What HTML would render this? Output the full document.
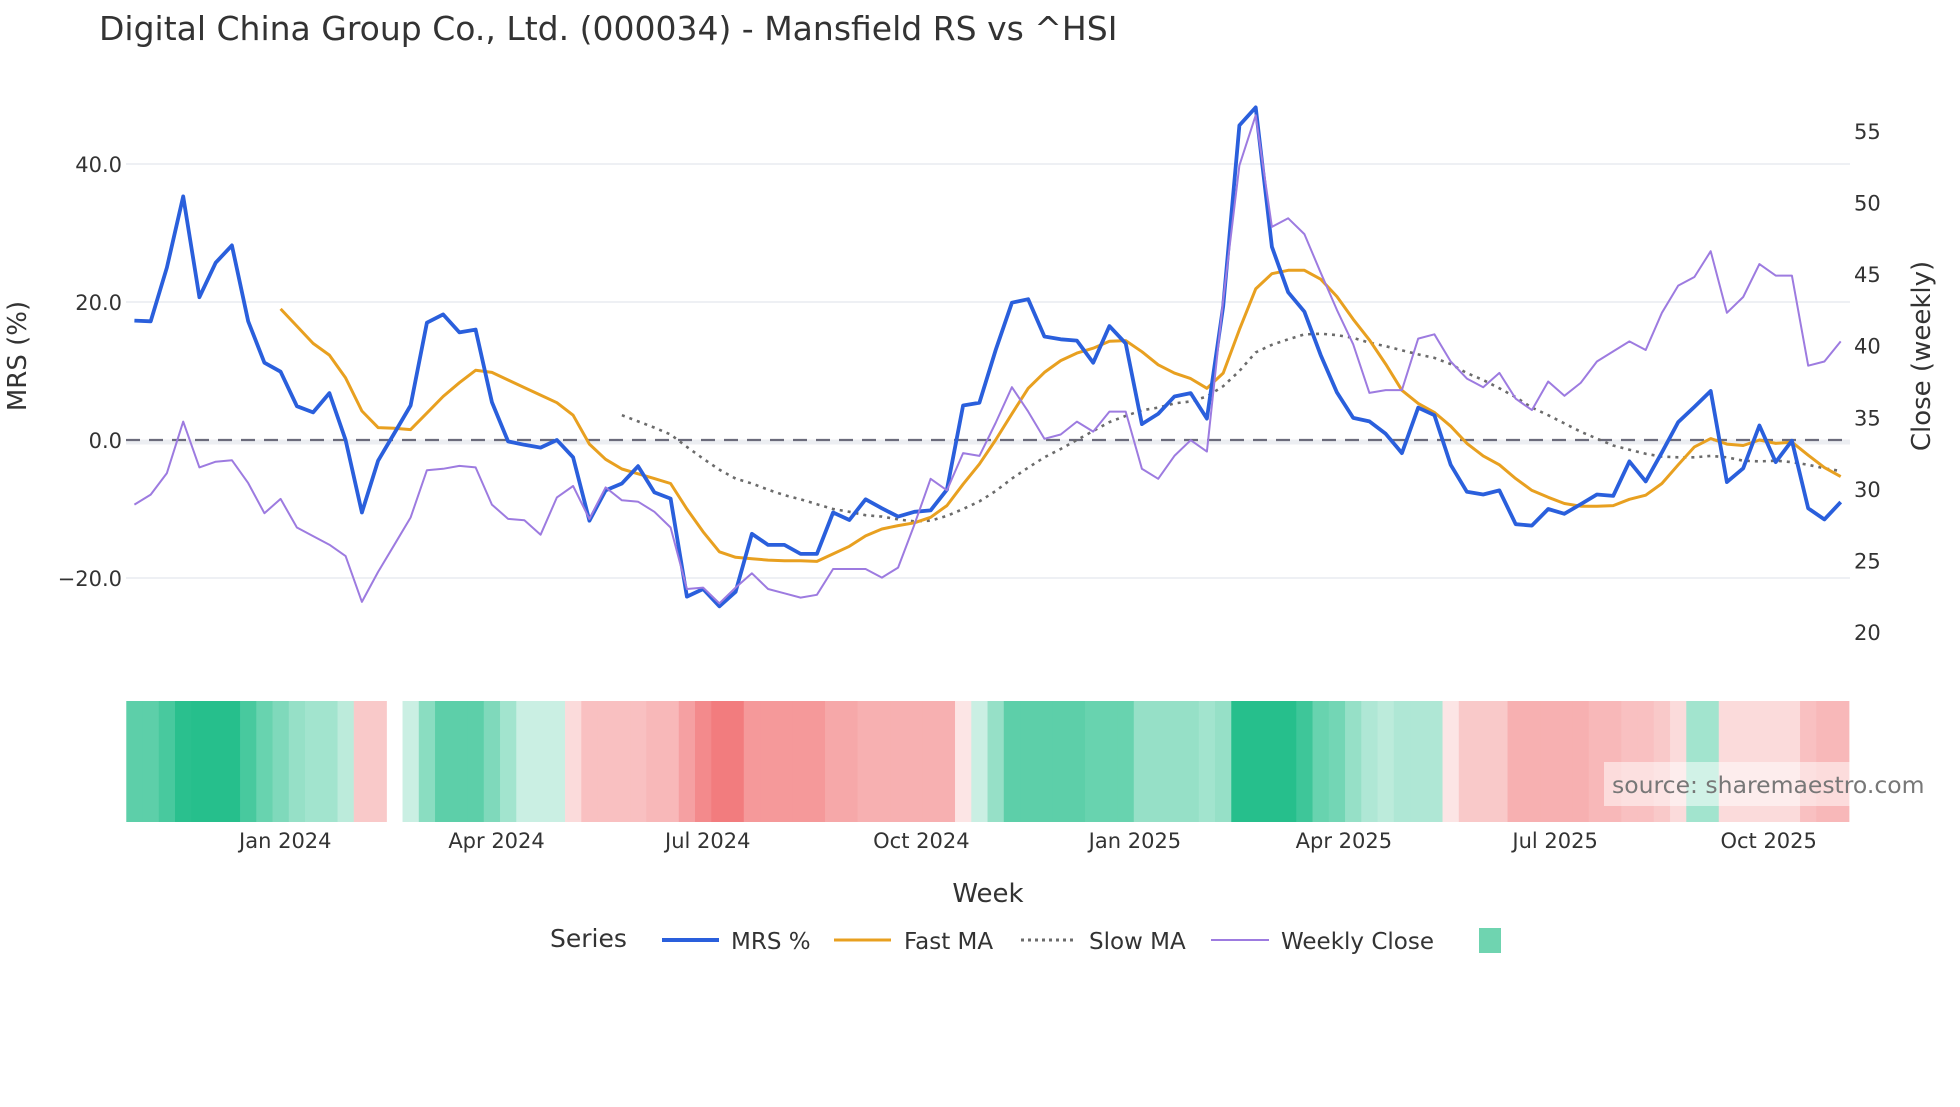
<!DOCTYPE html>
<html><head><meta charset="utf-8"><style>
html,body{margin:0;padding:0;background:#fff;}
svg text{font-family:"DejaVu Sans","Liberation Sans",sans-serif;fill:#2a3f5f;}
</style></head><body>
<svg id="chart" width="1960" height="1102" viewBox="0 0 1960 1102" xmlns="http://www.w3.org/2000/svg">
<text x="99" y="40" font-size="33" style="fill:#333">Digital China Group Co., Ltd. (000034) - Mansfield RS vs ^HSI</text>
<g id="grid"></g><g id="heat"></g><g id="lines"></g><g id="axes"></g>
<rect x="1604" y="762" width="246" height="44" fill="#fff" fill-opacity="0.5"/>
<text x="1612" y="793" font-size="23.5" style="fill:#777">source: sharemaestro.com</text>
<text x="988" y="902" font-size="26" text-anchor="middle" style="fill:#333">Week</text>
<text transform="translate(26,356) rotate(-90)" font-size="26" text-anchor="middle" style="fill:#333">MRS (%)</text>
<text transform="translate(1930,356) rotate(-90)" font-size="26" text-anchor="middle" style="fill:#333">Close (weekly)</text>
<g>
<text x="550" y="947" font-size="25" style="fill:#333">Series</text>
<g><line x1="662" y1="940" x2="719" y2="940" stroke="#2a5fdc" stroke-width="4"/><text x="731" y="949" font-size="23" style="fill:#333">MRS %</text></g>
<g><line x1="834" y1="940" x2="891" y2="940" stroke="#e8a020" stroke-width="3"/><text x="904" y="949" font-size="23" style="fill:#333">Fast MA</text></g>
<g><line x1="1021" y1="940" x2="1075" y2="940" stroke="#6b6b6b" stroke-width="3" stroke-dasharray="3,4"/><text x="1089" y="949" font-size="23" style="fill:#333">Slow MA</text></g>
<g><line x1="1211" y1="940" x2="1269" y2="940" stroke="#9d7be0" stroke-width="2"/><text x="1281" y="949" font-size="23" style="fill:#333">Weekly Close</text></g>
<rect x="1479" y="928" width="22" height="25" fill="#6fd4b0"/>
</g>
</svg>
<script>
const mrs=[17.3,17.2,25,35.3,20.7,25.7,28.2,17.2,11.2,9.9,4.9,4.0,6.8,0,-10.5,-3,1,5,17,18.2,15.6,16,5.5,-0.2,-0.7,-1.1,0,-2.5,-11.7,-7.3,-6.3,-3.8,-7.6,-8.5,-22.7,-21.6,-24.1,-22,-13.6,-15.2,-15.2,-16.5,-16.5,-10.5,-11.6,-8.6,-9.9,-11.1,-10.4,-10.2,-7.2,5,5.4,13,19.9,20.4,15,14.6,14.4,11.2,16.5,14,2.3,3.8,6.3,6.8,3.1,19.4,45.6,48.2,28,21.4,18.6,12.3,6.9,3.2,2.7,0.9,-1.9,4.7,3.6,-3.6,-7.5,-7.9,-7.3,-12.2,-12.4,-10,-10.7,-9.3,-7.9,-8.1,-3.1,-6,-1.8,2.6,4.8,7.1,-6.1,-4.1,2.1,-3.2,-0.1,-9.9,-11.5,-9];
const closeW=[28.9,29.6,31.1,34.7,31.5,31.9,32.0,30.4,28.3,29.3,27.3,26.7,26.1,25.3,22.1,24.2,26.1,28.0,31.3,31.4,31.6,31.5,28.9,27.9,27.8,26.8,29.4,30.2,27.9,30.1,29.2,29.1,28.4,27.3,23.0,23.1,22.0,23.1,24.1,23.0,22.7,22.4,22.6,24.4,24.4,24.4,23.8,24.5,27.5,30.7,29.9,32.5,32.3,34.6,37.1,35.4,33.5,33.8,34.7,34.0,35.4,35.4,31.4,30.7,32.3,33.4,32.6,43.2,52.6,56.1,48.3,48.9,47.8,45.1,42.5,40.1,36.7,36.9,36.9,40.5,40.8,38.9,37.7,37.1,38.1,36.3,35.5,37.5,36.5,37.4,38.9,39.6,40.3,39.7,42.3,44.2,44.8,46.6,42.3,43.4,45.7,44.9,44.9,38.6,38.9,40.3];
const fastStart=9;
const fastMA=[19,16.5,14,12.3,9,4.2,1.8,1.7,1.5,3.9,6.3,8.3,10.1,9.8,8.7,7.6,6.5,5.4,3.6,-0.6,-2.8,-4.2,-4.9,-5.6,-6.3,-10,-13.3,-16.2,-17,-17.2,-17.4,-17.5,-17.5,-17.6,-16.5,-15.4,-13.9,-12.9,-12.4,-12,-11.2,-9.5,-6.4,-3.5,0,3.8,7.5,9.8,11.5,12.6,13.3,14.3,14.4,12.8,10.9,9.7,8.9,7.5,9.7,16,21.9,24.1,24.6,24.6,23.3,20.8,17.5,14.5,11,7.2,5.3,4,2,-0.5,-2.3,-3.6,-5.6,-7.3,-8.3,-9.2,-9.6,-9.6,-9.5,-8.6,-8,-6.3,-3.6,-1,0.2,-0.6,-0.8,0,-0.5,-0.3,-2.2,-4,-5.3];
const slowStart=30;
const slowMA=[3.6,2.7,1.8,0.8,-1,-2.7,-4.3,-5.6,-6.3,-7.2,-8,-8.6,-9.3,-10,-10.4,-10.9,-11.1,-11.5,-11.8,-11.7,-11,-10,-8.9,-7.4,-5.6,-4,-2.5,-1.3,0,1.3,2.6,3.5,4.3,4.7,5.3,5.6,6.3,7.8,10,12.7,13.8,14.6,15.3,15.4,15.2,14.8,14.1,13.6,13,12.4,11.9,11,9.7,8.7,7.5,6.2,4.7,3.6,2.4,1.2,0.2,-0.8,-1.4,-2,-2.4,-2.5,-2.5,-2.3,-2.5,-3,-3.1,-3,-3.2,-3.6,-4.1,-4.5];
const heat=[0.6,0.6,0.7,0.85,0.9,0.9,0.9,0.7,0.55,0.45,0.35,0.3,0.3,0.2,-0.25,-0.25,null,0.15,0.4,0.6,0.6,0.6,0.45,0.3,0.15,0.15,0.15,-0.15,-0.3,-0.3,-0.3,-0.3,-0.35,-0.35,-0.5,-0.65,-0.75,-0.75,-0.55,-0.55,-0.55,-0.55,-0.55,-0.45,-0.45,-0.4,-0.4,-0.4,-0.4,-0.4,-0.4,-0.1,0.15,0.35,0.6,0.6,0.6,0.6,0.6,0.55,0.55,0.55,0.35,0.35,0.35,0.35,0.3,0.35,0.95,0.95,0.95,0.95,0.75,0.55,0.5,0.35,0.25,0.2,0.25,0.25,0.25,-0.1,-0.25,-0.25,-0.25,-0.4,-0.4,-0.4,-0.4,-0.4,-0.35,-0.35,-0.3,-0.3,-0.25,-0.15,0.3,0.3,-0.15,-0.15,-0.15,-0.15,-0.15,-0.3,-0.35,-0.35];
const yTicks=[40,20,0,-20];
const yTickLabels=["40.0","20.0","0.0","\u221220.0"];
const y2Ticks=[55,50,45,40,35,30,25,20];
const xTickLabels=["Jan 2024","Apr 2024","Jul 2024","Oct 2024","Jan 2025","Apr 2025","Jul 2025","Oct 2025"];
const xTickDates=["2024-01-01","2024-04-01","2024-07-01","2024-10-01","2025-01-01","2025-04-01","2025-07-01","2025-10-01"];
const startDate="2023-10-28";

const NS="http://www.w3.org/2000/svg";
const X0=134.4, DX=16.25;
const xS=i=>X0+i*DX;
const yS=v=>440-v*6.9;
const y2S=v=>131+(55-v)*14.314;
function mk(tag,attrs,parent){const e=document.createElementNS(NS,tag);for(const k in attrs)e.setAttribute(k,attrs[k]);parent.appendChild(e);return e;}
const grid=document.getElementById('grid'),heatG=document.getElementById('heat'),lines=document.getElementById('lines'),axes=document.getElementById('axes');

yTicks.forEach((t,k)=>{
  if(t!==0){const g=mk('line',{x1:126,x2:1850,y1:yS(t),y2:yS(t),stroke:'#eef0f4','stroke-width':2},grid);
  
  }
  const tx=mk('text',{x:122,y:yS(t)+8,'font-size':21,'text-anchor':'end',style:'fill:#333'},axes);
  tx.textContent=yTickLabels[k];
  
  
});
{const b=mk('line',{x1:126,x2:1850,y1:yS(0)+2,y2:yS(0)+2,stroke:'#eceef2','stroke-width':5},grid);


const z=mk('line',{x1:126,x2:1850,y1:yS(0),y2:yS(0),stroke:'#6b6b7b','stroke-width':2.2,'stroke-dasharray':'14,9'},lines);

}
y2Ticks.forEach(t=>{
  const tx=mk('text',{x:1854,y:y2S(t)+8,'font-size':21,style:'fill:#333'},axes);
  tx.textContent=String(t);
  
  
});
const sd=new Date(startDate+"T00:00:00Z");
xTickDates.forEach((d,k)=>{
  const idx=(new Date(d+"T00:00:00Z")-sd)/864e5/7;
  const tx=mk('text',{x:xS(idx),y:848,'font-size':21,'text-anchor':'middle',style:'fill:#333'},axes);
  tx.textContent=xTickLabels[k];
  
  
});
function col(v){const w=[255,255,255],g=[38,191,140],r=[240,108,110];const c=v>=0?g:r;const a=Math.min(1,Math.pow(Math.abs(v),0.8)*1.12);
return 'rgb('+c.map((x,i)=>Math.round(w[i]+(x-w[i])*a)).join(',')+')';}
heat.forEach((v,k)=>{
  if(v===null)return;
  const c=mk('rect',{x:xS(k)-DX/2,y:701,width:DX+0.6,height:121,fill:col(v)},heatG);
  
  
});
function path(vals,start,sc,attrs,name){
  const d=vals.map((v,k)=>(k?'L':'M')+xS(start+k).toFixed(1)+','+sc(v).toFixed(1)).join('');
  const p=mk('path',Object.assign({d:d,fill:'none','stroke-linejoin':'round'},attrs),lines);
  
  
}
path(slowMA,slowStart,yS,{stroke:'#6b6b6b','stroke-width':2.6,'stroke-dasharray':'3,5'},'slow-ma-line');
path(fastMA,fastStart,yS,{stroke:'#e8a020','stroke-width':3},'fast-ma-line');
path(mrs,0,yS,{stroke:'#2a5fdc','stroke-width':3.8},'mrs-line');
path(closeW,0,y2S,{stroke:'#9d7be0','stroke-width':2},'weekly-close-line');
</script>
</body></html>
